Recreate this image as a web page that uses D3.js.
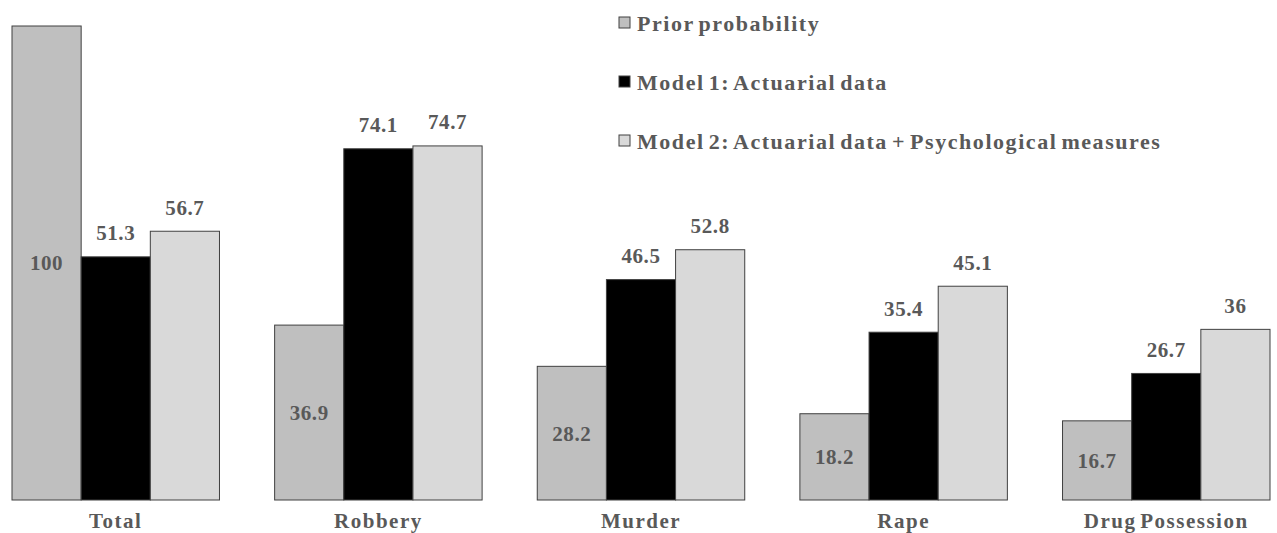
<!DOCTYPE html>
<html>
<head>
<meta charset="utf-8">
<script src="https://cdn.jsdelivr.net/npm/d3@7"></script>
<style>
  body { margin: 0; background: #fff; }
  text { font-family: "Liberation Serif", "Times New Roman", serif; font-weight: bold; fill: #595959; }
</style>
</head>
<body>
<div id="chart"></div>
<script>
const width = 1277, height = 533;

const categories = ["Total", "Robbery", "Murder", "Rape", "Drug Possession"];
const seriesNames = ["Prior probability", "Model 1: Actuarial data", "Model 2: Actuarial data + Psychological measures"];
const priorValues = [100, 36.9, 28.2, 18.2, 16.7];
const model1Values = [51.3, 74.1, 46.5, 35.4, 26.7];
const model2Values = [56.7, 74.7, 52.8, 45.1, 36];
const colors = ["#bfbfbf", "#000000", "#d9d9d9"];

const allSeries = [priorValues, model1Values, model2Values];

const svg = d3.select("#chart").append("svg")
    .attr("width", width)
    .attr("height", height);

const xScale = d3.scaleBand()
    .domain(categories)
    .range([12, 1270])
    .paddingInner(0.21)
    .paddingOuter(0);

const xInner = d3.scaleBand()
    .domain(d3.range(seriesNames.length))
    .range([0, xScale.bandwidth()]);

const yScale = d3.scaleLinear()
    .domain([0, 100])
    .range([500, 26]);

// flatten into bar records
const bars = [];
categories.forEach((c, i) => {
    allSeries.forEach((s, j) => {
        bars.push({ cat: c, series: j, value: s[i] });
    });
});

const groups = svg.append("g").attr("class", "bars");

groups.selectAll("rect")
    .data(bars)
    .enter().append("rect")
    .attr("x", d => xScale(d.cat) + xInner(d.series))
    .attr("y", d => yScale(d.value))
    .attr("width", xInner.bandwidth())
    .attr("height", d => yScale(0) - yScale(d.value))
    .attr("fill", d => colors[d.series])
    .attr("stroke", "#404040")
    .attr("stroke-width", 1);

// value labels: prior inside (middle), models above
groups.selectAll("text.value")
    .data(bars)
    .enter().append("text")
    .attr("class", "value")
    .attr("x", d => xScale(d.cat) + xInner(d.series) + xInner.bandwidth() / 2)
    .attr("y", d => d.series === 0 ? (yScale(d.value) + yScale(0)) / 2 : yScale(d.value) - 24)
    .attr("dy", "0.35em")
    .attr("text-anchor", "middle")
    .attr("font-size", 21)
    .attr("letter-spacing", 0.6)
    .text(d => d.value);

// category axis labels
const xAxis = d3.axisBottom(xScale).tickSize(0).tickPadding(13);
const axisG = svg.append("g")
    .attr("transform", "translate(0,500)")
    .call(xAxis);
axisG.select(".domain").remove();
axisG.selectAll("text")
    .attr("font-size", 21)
    .attr("letter-spacing", 1.5)
    .attr("word-spacing", -3)
    .style("fill", "#595959");

// legend
const legend = svg.append("g").attr("transform", "translate(619,0)");
const legendRows = legend.selectAll("g")
    .data(seriesNames)
    .enter().append("g")
    .attr("transform", (d, i) => "translate(0," + (23 + i * 59) + ")");
legendRows.append("rect")
    .attr("x", 0)
    .attr("y", -6)
    .attr("width", 11)
    .attr("height", 11)
    .attr("fill", (d, i) => colors[i])
    .attr("stroke", "#404040");
legendRows.append("text")
    .attr("x", 18)
    .attr("y", 0)
    .attr("dy", "0.35em")
    .attr("font-size", 22)
    .attr("letter-spacing", 1.55)
    .attr("word-spacing", -3)
    .text(d => d);
</script>
</body>
</html>
